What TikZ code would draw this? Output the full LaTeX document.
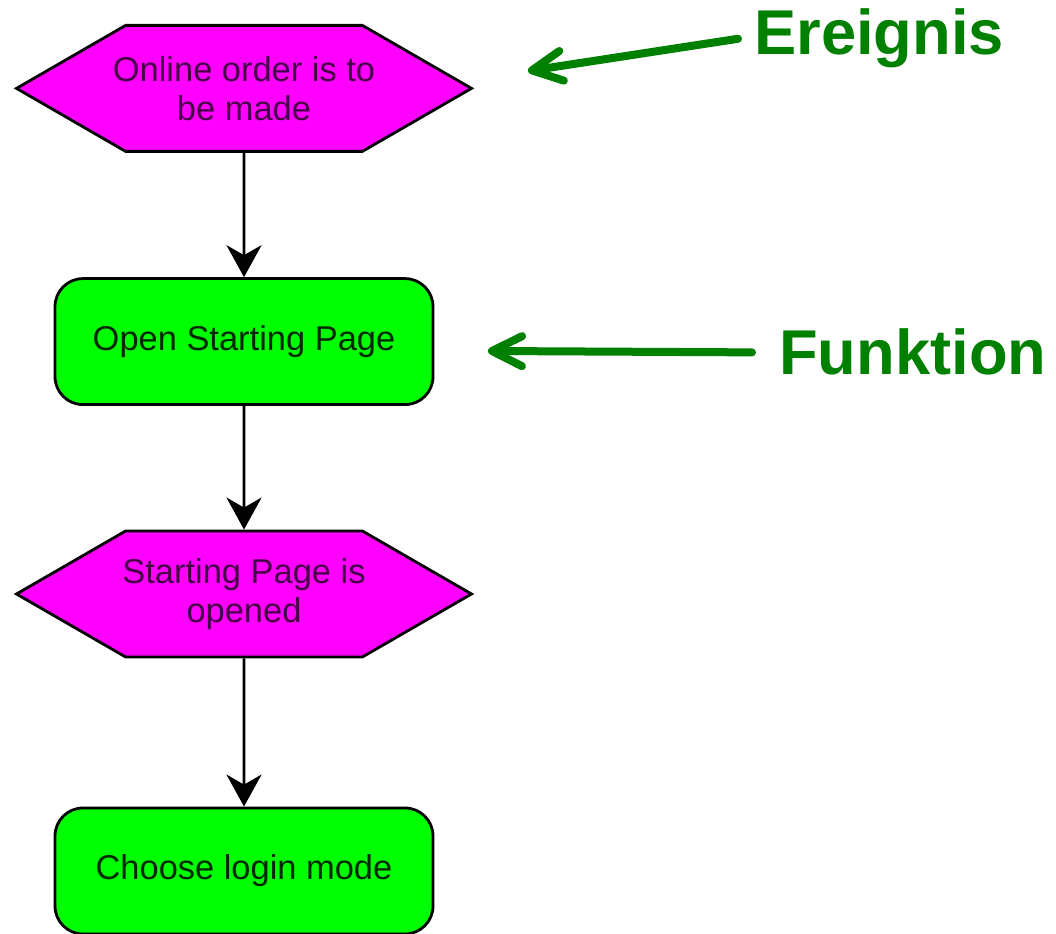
\documentclass[tikz,border=0pt]{standalone}
\usepackage{fontspec}
\setmainfont{Liberation Sans}
\usetikzlibrary{arrows.meta,shapes.symbols}
\definecolor{evfill}{RGB}{255,0,255}
\definecolor{fnfill}{RGB}{0,255,0}
\definecolor{evtext}{RGB}{70,0,70}
\definecolor{fntext}{RGB}{0,40,0}
\definecolor{note}{RGB}{0,128,0}
\begin{document}
\begin{tikzpicture}[
    event/.style={signal,signal to=west and east,signal pointer angle=60,
      fill=evfill,text=evtext,inner xsep=-0.6cm,
      minimum width=11.375cm,minimum height=3.15cm},
    func/.style={rectangle,rounded corners=0.7cm,fill=fnfill,text=fntext,
      minimum width=9.45cm,minimum height=3.15cm}]
        \useasboundingbox (0,0) rectangle (26.4,23.35);
        \begin{scope}[every node/.style={draw=black,line width=0.07cm,align=center,
            font=\fontsize{24.5}{28}\selectfont,inner sep=0pt}]
          \node[event] (1) at (6.1,21.14) {Online order is to\\be made};
          \node[func] (2) at (6.1,14.81) {Open Starting Page};
          \node[event] (3) at (6.1,8.5) {Starting Page is\\opened};
          \node[func] (4) at (6.1,1.575) {Choose login mode};
        \end{scope}
        \begin{scope}[every edge/.style={draw=black,line width=0.07cm,
            -{Stealth[length=0.8cm,width=0.875cm,inset=0.25cm]}}]
          \path (1) edge (2);
          \path (2) edge (3);
          \path (3) edge (4);
        \end{scope}
        \begin{scope}[every node/.style={text=note,inner ysep=0pt,anchor=base west,
            font=\fontsize{45}{50}\selectfont\bfseries}]
          \node[inner xsep=0.4cm] (5) at (18.45,21.975) {Ereignis};
          \node[inner xsep=0.675cm] (6) at (18.8,13.975) {Funktion};
        \end{scope}
        \coordinate (7) at (13.2,21.575);
        \coordinate (8) at (12.2,14.575);
        \begin{scope}[every edge/.style={draw=note,line width=0.2cm,line cap=round,
            -{Straight Barb[length=0.75cm,width=0.75cm,round]}}]
          \path (5.west) edge (7);
          \path (6.west) edge (8);
        \end{scope}
\end{tikzpicture}
\end{document}
